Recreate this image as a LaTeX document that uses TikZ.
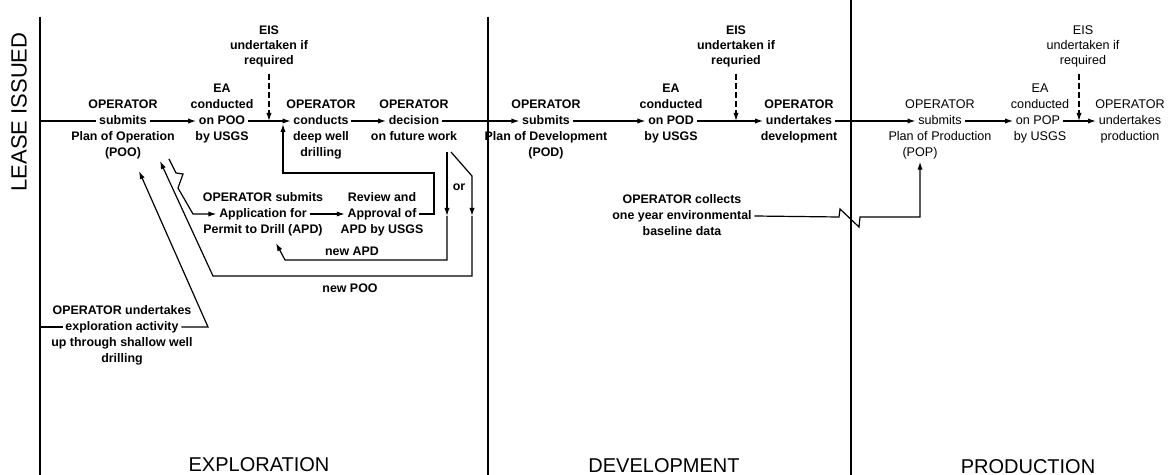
\documentclass[tikz,border=0pt]{standalone}
\usepackage{fontspec}
\setmainfont{Liberation Sans}
\usetikzlibrary{arrows.meta}
\newcommand{\fa}{\fontsize{6.2}{7.5}\selectfont\bfseries}
\newcommand{\fb}{\fontsize{6.3}{7.5}\selectfont}
\newcommand{\fbig}{\fontsize{10}{12}\selectfont}
\newcommand{\flease}{\fontsize{11}{13}\selectfont}
\tikzset{
  t/.style={font=\fa, inner sep=1.2pt, text height=4.6pt, text depth=1.3pt},
  tp/.style={t, font=\fb},
  big/.style={font=\fbig, inner sep=0pt},
  ln/.style={line width=0.6pt},
  arr/.style={ln, -{Latex[length=4pt,width=2.6pt]}},
  eisarr/.style={arr, dash pattern=on 3pt off 1.6pt, shorten <=2pt},
  divider/.style={line width=0.7pt}
}
\begin{document}
\begin{tikzpicture}[x=0.5pt,y=-0.5pt]
\useasboundingbox (0,0) rectangle (1170,475);
% dividers
\coordinate (l1t) at (40,17); \coordinate (l1b) at (40,475);
\coordinate (l2t) at (488,17); \coordinate (l2b) at (488,475);
\coordinate (l3t) at (851,0); \coordinate (l3b) at (851,475);
\draw[divider] (l1t) -- (l1b);
\draw[divider] (l2t) -- (l2b);
\draw[divider] (l3t) -- (l3b);
% big labels
\node[big, font=\flease, rotate=90] (lease) at (19,112) {LEASE ISSUED};
\node[big] (explab) at (259,465) {EXPLORATION};
\node[big] (devlab) at (664,466) {DEVELOPMENT};
\node[big] (prodlab) at (1028,467) {PRODUCTION};

% ---------------- Exploration ----------------
\node[t] (poo1) at (123,105) {OPERATOR};
\node[t] (poo)  at (123,121) {submits};
\node[t] (poo3) at (123,137) {Plan of Operation};
\node[t] (poo4) at (123,153) {(POO)};

\node[t] (ea1a) at (222,89) {EA};
\node[t] (ea1b) at (222,105) {conducted};
\node[t] (ea1)  at (222,121) {on POO};
\node[t] (ea1d) at (222,137) {by USGS};

\node[t] (eis1a) at (269,31) {EIS};
\node[t] (eis1b) at (269,46) {undertaken if};
\node[t] (eis1)  at (269,61) {required};

\node[t] (dr1) at (321,105) {OPERATOR};
\node[t] (dr)  at (321,121) {conducts};
\node[t] (dr3) at (321,137) {deep well};
\node[t] (dr4) at (321,153) {drilling};

\node[t] (dec1) at (414,105) {OPERATOR};
\node[t] (dec)  at (414,121) {decision};
\node[t] (dec3) at (414,137) {on future work};

\node[t] (app1) at (263,198) {OPERATOR submits};
\node[t] (app)  at (263,214) {Application for};
\node[t] (app3) at (263,230) {Permit to Drill (APD)};

\node[t] (rev1) at (382,198) {Review and};
\node[t] (rev)  at (382,214) {Approval of};
\node[t] (rev3) at (382,230) {APD by USGS};

\node[t] (newapd) at (352,252) {new APD};
\node[t] (newpoo) at (350,289) {new POO};
\node[t] (orlab)  at (459,187) {or};

\node[t] (ex1) at (122,311) {OPERATOR undertakes};
\node[t] (ex)  at (122,327) {exploration activity};
\node[t] (ex3) at (122,343) {up through shallow well};
\node[t] (ex4) at (122,359) {drilling};

% exploration connectors
\coordinate (leaseL) at (40,121);
\draw[ln] (leaseL) -- (poo.west);
\draw[arr] (poo.east) -- (ea1.west);
\draw[arr] (ea1.east) -- (dr.west);
\draw[eisarr] (eis1.south) -- (eis1.south |- ea1.east);
\draw[arr] (dr.east) -- (dec.west);

% feedback from review to drilling
\coordinate (fb1) at (434,214);
\coordinate (fb2) at (434,173);
\coordinate (fb3) at (283,173);
\coordinate (fbtip) at (283,124);
\draw[arr] (rev.east) -- (fb1) -- (fb2) -- (fb3) -- (fbtip);

\draw[arr] (app.east) -- (rev.west);

% APD zigzag from POO
\coordinate (z0) at (169,159);
\coordinate (z1) at (176,173);
\coordinate (z2) at (183,174);
\coordinate (z3) at (178,188);
\coordinate (z4) at (193,214);
\draw[arr] (z0) -- (z1) -- (z2) -- (z3) -- (z4) -- (app.west);

% or branch 1 : new APD
\coordinate (o1s) at (447,152);
\coordinate (o1m) at (447,216);
\coordinate (o1e) at (447,260);
\coordinate (o1c) at (285,260);
\coordinate (o1t) at (276,243);
\draw[arr] (o1s) -- (o1m);
\draw[arr] (o1m) -- (o1e) -- (o1c) -- (o1t);

% or branch 2 : new POO
\coordinate (o2s) at (451,152);
\coordinate (o2k) at (472,176);
\coordinate (o2m) at (472,216);
\coordinate (o2e) at (472,276);
\coordinate (o2c) at (213,276);
\coordinate (o2t) at (160,161);
\draw[arr] (o2s) -- (o2k) -- (o2m);
\draw[arr] (o2m) -- (o2e) -- (o2c) -- (o2t);

% exploration activity
\coordinate (exL) at (40,327);
\coordinate (exR) at (208,327);
\coordinate (ext) at (139,171);
\draw[ln] (exL) -- (ex.west);
\draw[arr] (ex.east) -- (exR) -- (ext);

% ---------------- Development ----------------
\node[t] (pod1) at (546,105) {OPERATOR};
\node[t] (pod)  at (546,121) {submits};
\node[t] (pod3) at (546,137) {Plan of Development};
\node[t] (pod4) at (546,153) {(POD)};

\node[t] (ea2a) at (671,89) {EA};
\node[t] (ea2b) at (671,105) {conducted};
\node[t] (ea2)  at (671,121) {on POD};
\node[t] (ea2d) at (671,137) {by USGS};

\node[t] (eis2a) at (736,31) {EIS};
\node[t] (eis2b) at (736,46) {undertaken if};
\node[t] (eis2)  at (736,61) {requried};

\node[t] (dv1) at (799,105) {OPERATOR};
\node[t] (dv)  at (799,121) {undertakes};
\node[t] (dv3) at (799,137) {development};

\node[t] (co1) at (682,200) {OPERATOR collects};
\node[t] (co)  at (682,216) {one year environmental};
\node[t] (co3) at (682,232) {baseline data};

% ---------------- Production ----------------
\node[tp] (pop1) at (940,105) {OPERATOR};
\node[tp] (pop)  at (940,121) {submits};
\node[tp] (pop3) at (940,137) {Plan of Production};
\node[tp] (pop4) at (920,153) {(POP)};

\node[tp] (ea3a) at (1040,89) {EA};
\node[tp] (ea3b) at (1040,105) {conducted};
\node[tp] (ea3)  at (1038,121) {on POP};
\node[tp] (ea3d) at (1040,137) {by USGS};

\node[tp] (eis3a) at (1083,31) {EIS};
\node[tp] (eis3b) at (1083,46) {undertaken if};
\node[tp] (eis3)  at (1083,61) {required};

\node[tp] (pr1) at (1130,105) {OPERATOR};
\node[tp] (pr)  at (1130,121) {undertakes};
\node[tp] (pr3) at (1130,137) {production};

% development connectors
\draw[arr] (dec.east) -- (pod.west);
\draw[arr] (pod.east) -- (ea2.west);
\draw[arr] (ea2.east) -- (dv.west);
\draw[eisarr] (eis2.south) -- (eis2.south |- ea2.east);
\draw[arr] (dv.east) -- (pop.west);

% production connectors
\draw[arr] (pop.east) -- (ea3.west);
\draw[arr] (ea3.east) -- (pr.west);
\draw[eisarr] ([xshift=-2pt]eis3.south) -- ([xshift=-2pt]eis3.south |- ea3.east);

% collects -> POP with break symbol
\coordinate (c1) at (839,217);
\coordinate (c2) at (840,209);
\coordinate (c3) at (859,227);
\coordinate (c4) at (860,217);
\draw[arr] (co.east) -- (c1) -- (c2) -- (c3) -- (c4) -- (pop4.south |- c4) -- (pop4.south);
\end{tikzpicture}
\end{document}
